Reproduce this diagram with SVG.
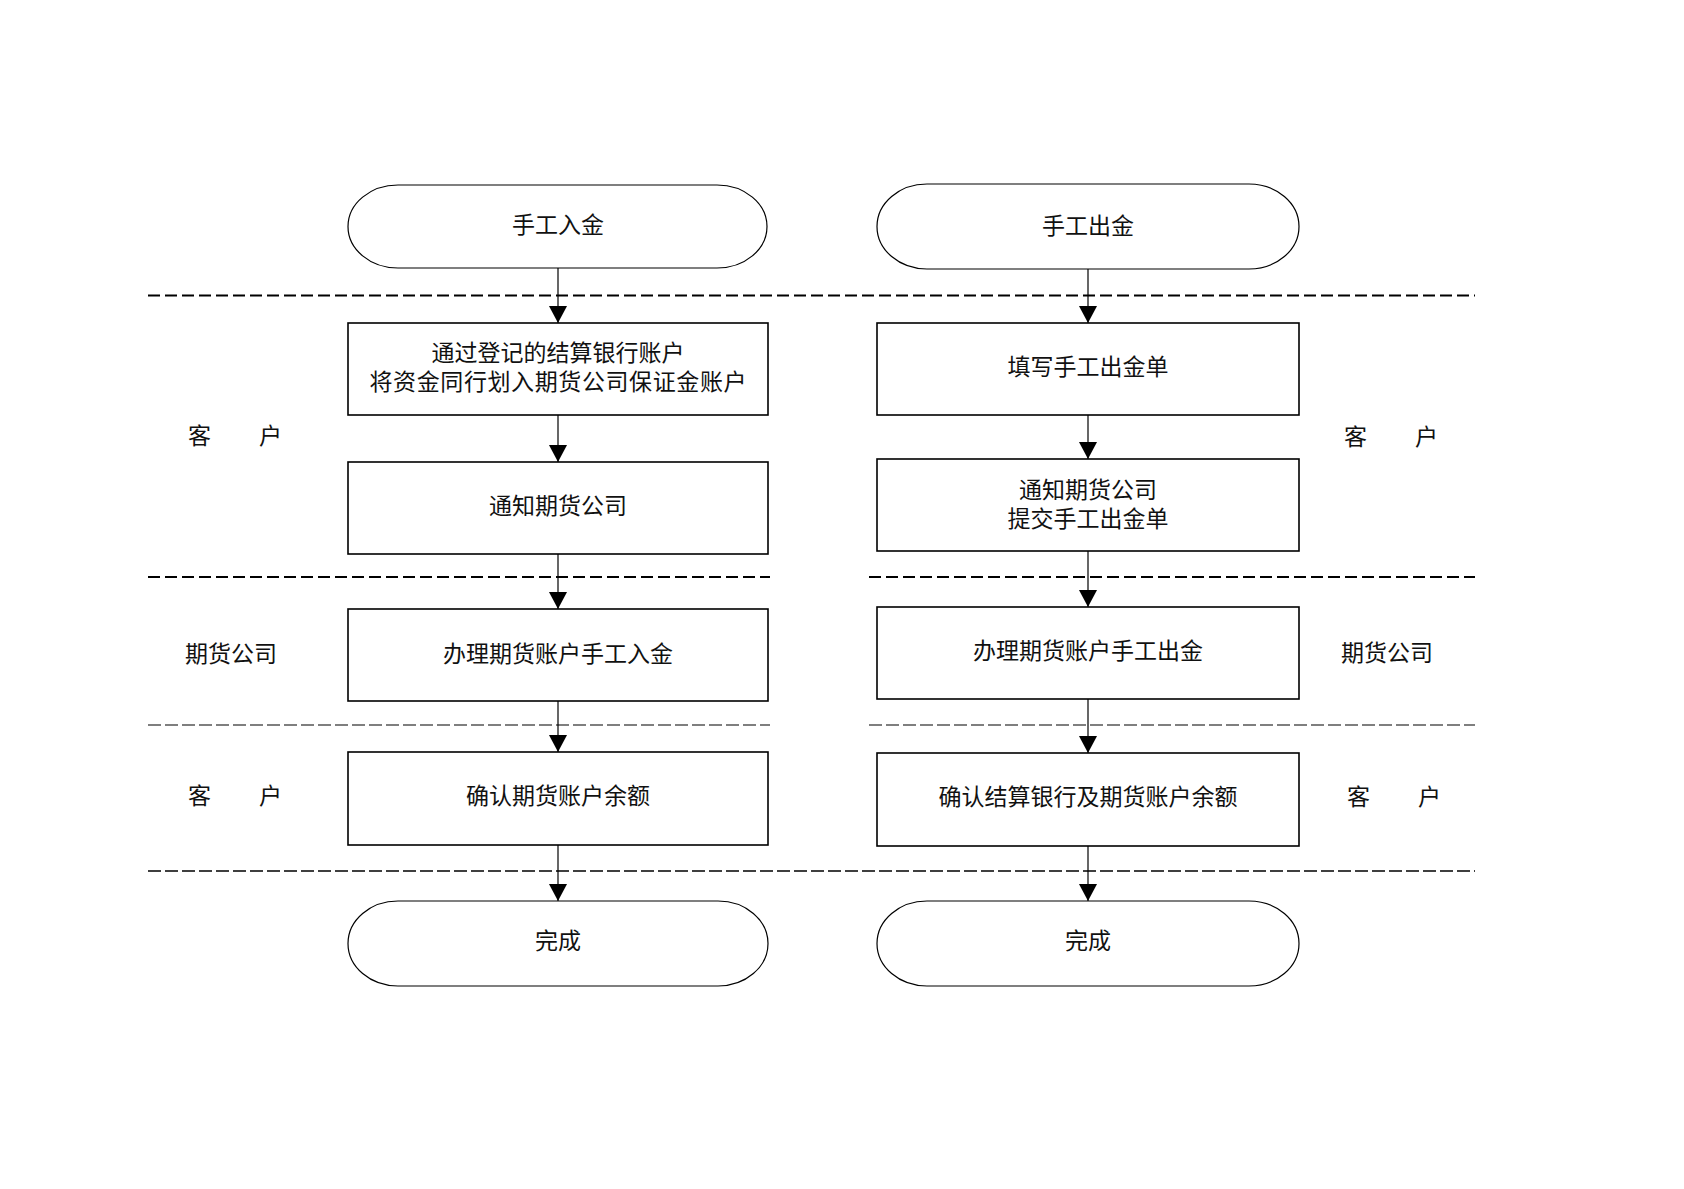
<svg xmlns="http://www.w3.org/2000/svg" width="1684" height="1189" viewBox="0 0 1684 1189">
<style>
text{font-family:"Noto Sans CJK SC","Noto Sans CJK TC",sans-serif;font-size:23px;fill:#111;dominant-baseline:central}
.c{text-anchor:middle}
.term{fill:#fff;stroke:#000;stroke-width:1.2}
.box{fill:#fff;stroke:#000;stroke-width:1.6}
.lane{stroke:#000;fill:none}
.thick{stroke-width:2;stroke-dasharray:12 5}
.thin{stroke-width:1.1;stroke-dasharray:13 4}
.conn{stroke:#000;stroke-width:1.2;fill:none;marker-end:url(#arr)}
</style>
<defs>
<marker id="arr" markerUnits="userSpaceOnUse" markerWidth="18" markerHeight="18" refX="17" refY="9" orient="auto" viewBox="0 0 18 18">
<path d="M0,0 L17,9 L0,18 Z" fill="#000"/>
</marker>
</defs>
<rect width="1684" height="1189" fill="#fff"/>
<g id="lanes">
<line class="lane thick" x1="148" y1="295.5" x2="1475" y2="295.5"/>
<line class="lane thick" x1="148" y1="577" x2="770" y2="577"/>
<line class="lane thick" x1="869" y1="577" x2="1475" y2="577"/>
<line class="lane thin" x1="148" y1="725" x2="770" y2="725"/>
<line class="lane thin" x1="869" y1="725" x2="1475" y2="725"/>
<line class="lane thin" x1="148" y1="871" x2="1475" y2="871" style="stroke-width:1.4"/>
</g>
<g id="connectors">
<line class="conn" x1="558" y1="268" x2="558" y2="323"/>
<line class="conn" x1="558" y1="415" x2="558" y2="462"/>
<line class="conn" x1="558" y1="554" x2="558" y2="609"/>
<line class="conn" x1="558" y1="701" x2="558" y2="752"/>
<line class="conn" x1="558" y1="845" x2="558" y2="901"/>
<line class="conn" x1="1088" y1="269" x2="1088" y2="323"/>
<line class="conn" x1="1088" y1="415" x2="1088" y2="459"/>
<line class="conn" x1="1088" y1="551" x2="1088" y2="607"/>
<line class="conn" x1="1088" y1="699" x2="1088" y2="753"/>
<line class="conn" x1="1088" y1="846" x2="1088" y2="901"/>
</g>
<g id="lane-labels">
<text x="188" y="434">客<tspan dx="48">户</tspan></text>
<text x="185" y="652">期货公司</text>
<text x="188" y="794">客<tspan dx="48">户</tspan></text>
<text x="1344" y="435">客<tspan dx="48">户</tspan></text>
<text x="1341" y="651">期货公司</text>
<text x="1347" y="795">客<tspan dx="48">户</tspan></text>
</g>
<g id="start-in">
<rect class="term" x="348" y="185" width="419" height="83" rx="50" ry="41.5"/>
<text class="c" x="558" y="223">手工入金</text>
</g>
<g id="in-step1">
<rect class="box" x="348" y="323" width="420" height="92"/>
<text class="c" x="558" y="351">通过登记的结算银行账户</text>
<text class="c" x="558" y="380" textLength="377" lengthAdjust="spacing">将资金同行划入期货公司保证金账户</text>
</g>
<g id="in-step2">
<rect class="box" x="348" y="462" width="420" height="92"/>
<text class="c" x="558" y="504">通知期货公司</text>
</g>
<g id="in-step3">
<rect class="box" x="348" y="609" width="420" height="92"/>
<text class="c" x="558" y="652">办理期货账户手工入金</text>
</g>
<g id="in-step4">
<rect class="box" x="348" y="752" width="420" height="93"/>
<text class="c" x="558" y="794">确认期货账户余额</text>
</g>
<g id="end-in">
<rect class="term" x="348" y="901" width="420" height="85" rx="50" ry="42.5"/>
<text class="c" x="558" y="939">完成</text>
</g>
<g id="start-out">
<rect class="term" x="877" y="184" width="422" height="85" rx="50" ry="42.5"/>
<text class="c" x="1088" y="224">手工出金</text>
</g>
<g id="out-step1">
<rect class="box" x="877" y="323" width="422" height="92"/>
<text class="c" x="1088" y="365">填写手工出金单</text>
</g>
<g id="out-step2">
<rect class="box" x="877" y="459" width="422" height="92"/>
<text class="c" x="1088" y="488">通知期货公司</text>
<text class="c" x="1088" y="517">提交手工出金单</text>
</g>
<g id="out-step3">
<rect class="box" x="877" y="607" width="422" height="92"/>
<text class="c" x="1088" y="649">办理期货账户手工出金</text>
</g>
<g id="out-step4">
<rect class="box" x="877" y="753" width="422" height="93"/>
<text class="c" x="1088" y="795">确认结算银行及期货账户余额</text>
</g>
<g id="end-out">
<rect class="term" x="877" y="901" width="422" height="85" rx="50" ry="42.5"/>
<text class="c" x="1088" y="939">完成</text>
</g>
</svg>
